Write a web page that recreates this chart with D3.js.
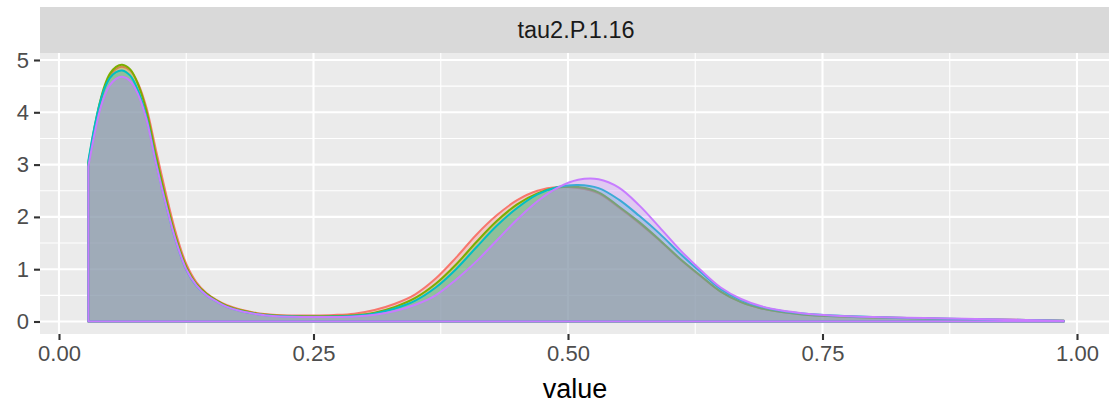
<!DOCTYPE html>
<html>
<head>
<meta charset="utf-8">
<script src="https://cdn.jsdelivr.net/npm/d3@7"></script>
<style>
  html, body { margin: 0; padding: 0; background: #ffffff; }
  svg { display: block; }
  text { font-family: "Liberation Sans", Arial, Helvetica, sans-serif; }
</style>
</head>
<body>
<svg id="chart" width="1109" height="405"></svg>
<script>
// ---- data ----
const facetLabel = "tau2.P.1.16";
const xTicks = [0, 0.25, 0.5, 0.75, 1];
const xTickLabels = ["0.00", "0.25", "0.50", "0.75", "1.00"];
const yTicks = [0, 1, 2, 3, 4, 5];
const yTickLabels = ["0", "1", "2", "3", "4", "5"];
const seriesNames = ["1", "2", "3", "4"];
const seriesColors = ["#F8766D", "#7CAE00", "#00BFC4", "#C77CFF"];

const xs = [0.0288, 0.035, 0.04, 0.045, 0.05, 0.056, 0.062, 0.07, 0.078, 0.086,
  0.095, 0.105, 0.115, 0.125, 0.135, 0.145, 0.155, 0.165, 0.18, 0.195,
  0.21, 0.23, 0.25, 0.27, 0.29, 0.31, 0.33, 0.35, 0.37, 0.39,
  0.41, 0.43, 0.45, 0.47, 0.49, 0.51, 0.53, 0.55, 0.57, 0.59,
  0.61, 0.63, 0.65, 0.67, 0.69, 0.71, 0.73, 0.76, 0.80, 0.85,
  0.90, 0.95, 0.987];

const series1 = [3.0, 3.68, 4.14, 4.48, 4.7, 4.83, 4.87, 4.8, 4.54, 4.08,
  3.3, 2.45, 1.68, 1.1, 0.75, 0.54, 0.41, 0.31, 0.22, 0.16,
  0.13, 0.115, 0.115, 0.125, 0.15, 0.22, 0.34, 0.52, 0.82, 1.22,
  1.66, 2.03, 2.32, 2.5, 2.57, 2.55, 2.45, 2.18, 1.88, 1.55,
  1.19, 0.87, 0.57, 0.37, 0.25, 0.18, 0.14, 0.105, 0.08, 0.06,
  0.045, 0.03, 0.015];
const series2 = [3.03, 3.72, 4.18, 4.52, 4.74, 4.87, 4.91, 4.82, 4.52, 4.02,
  3.2, 2.35, 1.6, 1.05, 0.72, 0.53, 0.4, 0.3, 0.21, 0.15,
  0.12, 0.105, 0.1, 0.105, 0.12, 0.17, 0.28, 0.45, 0.72, 1.09,
  1.52, 1.92, 2.24, 2.45, 2.56, 2.57, 2.47, 2.2, 1.9, 1.56,
  1.2, 0.88, 0.57, 0.37, 0.25, 0.18, 0.135, 0.1, 0.075, 0.055,
  0.04, 0.025, 0.012];
const series3 = [3.07, 3.74, 4.17, 4.47, 4.66, 4.77, 4.8, 4.7, 4.4, 3.9,
  3.07, 2.24, 1.52, 0.99, 0.68, 0.5, 0.38, 0.28, 0.19, 0.14,
  0.11, 0.095, 0.09, 0.095, 0.11, 0.155, 0.25, 0.4, 0.65, 1.0,
  1.42, 1.83, 2.17, 2.43, 2.57, 2.61, 2.55, 2.33, 2.02, 1.68,
  1.3, 0.95, 0.62, 0.41, 0.28, 0.2, 0.155, 0.115, 0.085, 0.06,
  0.045, 0.028, 0.013];
const series4 = [2.96, 3.6, 4.03, 4.33, 4.52, 4.64, 4.68, 4.6, 4.33, 3.86,
  3.05, 2.24, 1.53, 1.0, 0.69, 0.5, 0.38, 0.28, 0.19, 0.14,
  0.105, 0.09, 0.085, 0.085, 0.095, 0.13, 0.2, 0.32, 0.5, 0.8,
  1.15, 1.55, 1.95, 2.3, 2.56, 2.71, 2.72, 2.56, 2.22, 1.8,
  1.37, 0.99, 0.65, 0.43, 0.29, 0.21, 0.16, 0.115, 0.085, 0.065,
  0.05, 0.03, 0.015];
const seriesValues = [series1, series2, series3, series4];

// ---- layout ----
const panel = { left: 40, right: 1109, top: 53, bottom: 334 };
const strip = { top: 7, bottom: 53 };

const svg = d3.select("#chart");

const x = d3.scaleLinear().domain([0, 1]).range([59, 1077]);
const y = d3.scaleLinear().domain([0, 5]).range([321.5, 60]);

svg.append("defs").append("clipPath").attr("id", "pclip")
  .append("rect")
  .attr("x", panel.left).attr("y", panel.top)
  .attr("width", panel.right - panel.left).attr("height", panel.bottom - panel.top);

// strip
svg.append("rect")
  .attr("x", panel.left).attr("y", strip.top)
  .attr("width", panel.right - panel.left).attr("height", strip.bottom - strip.top)
  .attr("fill", "#D9D9D9");
svg.append("text")
  .attr("x", 576)
  .attr("y", (strip.top + strip.bottom) / 2)
  .attr("dy", "0.35em")
  .attr("text-anchor", "middle")
  .attr("font-size", 23.5)
  .attr("fill", "#1A1A1A")
  .text(facetLabel);

// panel background
svg.append("rect")
  .attr("x", panel.left).attr("y", panel.top)
  .attr("width", panel.right - panel.left).attr("height", panel.bottom - panel.top)
  .attr("fill", "#EBEBEB");

const grid = svg.append("g").attr("clip-path", "url(#pclip)");
const xMinor = xTicks.slice(0, -1).map((d, i) => (d + xTicks[i + 1]) / 2);
const yMinor = yTicks.slice(0, -1).map((d, i) => (d + yTicks[i + 1]) / 2);
grid.selectAll(".xminor").data(xMinor).join("line")
  .attr("x1", d => x(d)).attr("x2", d => x(d))
  .attr("y1", panel.top).attr("y2", panel.bottom)
  .attr("stroke", "#FFFFFF").attr("stroke-width", 1.1);
grid.selectAll(".yminor").data(yMinor).join("line")
  .attr("x1", panel.left).attr("x2", panel.right)
  .attr("y1", d => y(d)).attr("y2", d => y(d))
  .attr("stroke", "#FFFFFF").attr("stroke-width", 1.1);
grid.selectAll(".xmajor").data(xTicks).join("line")
  .attr("x1", d => x(d)).attr("x2", d => x(d))
  .attr("y1", panel.top).attr("y2", panel.bottom)
  .attr("stroke", "#FFFFFF").attr("stroke-width", 2.1);
grid.selectAll(".ymajor").data(yTicks).join("line")
  .attr("x1", panel.left).attr("x2", panel.right)
  .attr("y1", d => y(d)).attr("y2", d => y(d))
  .attr("stroke", "#FFFFFF").attr("stroke-width", 2.1);

// densities
const area = d3.area()
  .x(d => x(d[0]))
  .y0(y(0))
  .y1(d => y(d[1]))
  .curve(d3.curveCatmullRom.alpha(0.5));

const dens = svg.append("g").attr("clip-path", "url(#pclip)");
seriesValues.forEach((vals, i) => {
  const pts = xs.map((xv, j) => [xv, vals[j]]);
  dens.append("path")
    .datum(pts)
    .attr("d", area)
    .attr("fill", seriesColors[i])
    .attr("fill-opacity", 0.3)
    .attr("stroke", seriesColors[i])
    .attr("stroke-width", 2)
    .attr("stroke-linejoin", "round");
});

// axes
const xAxis = d3.axisBottom(x).tickValues(xTicks)
  .tickFormat((d, i) => xTickLabels[i]).tickSize(6).tickPadding(5);
const gx = svg.append("g").attr("transform", `translate(0,${panel.bottom})`).call(xAxis);
gx.select(".domain").remove();
gx.selectAll(".tick line").attr("stroke", "#333333").attr("stroke-width", 2.1);
gx.selectAll(".tick text").attr("fill", "#4D4D4D").attr("font-size", 22)
  .attr("font-family", "'Liberation Sans', Arial, sans-serif");

const yAxis = d3.axisLeft(y).tickValues(yTicks)
  .tickFormat((d, i) => yTickLabels[i]).tickSize(6).tickPadding(5);
const gy = svg.append("g").attr("transform", `translate(${panel.left},0)`).call(yAxis);
gy.select(".domain").remove();
gy.selectAll(".tick line").attr("stroke", "#333333").attr("stroke-width", 2.1);
gy.selectAll(".tick text").attr("fill", "#4D4D4D").attr("font-size", 22)
  .attr("font-family", "'Liberation Sans', Arial, sans-serif");

// axis title
svg.append("text")
  .attr("x", 575)
  .attr("y", 398)
  .attr("text-anchor", "middle")
  .attr("font-size", 27)
  .attr("fill", "#000000")
  .text("value");
</script>
</body>
</html>
